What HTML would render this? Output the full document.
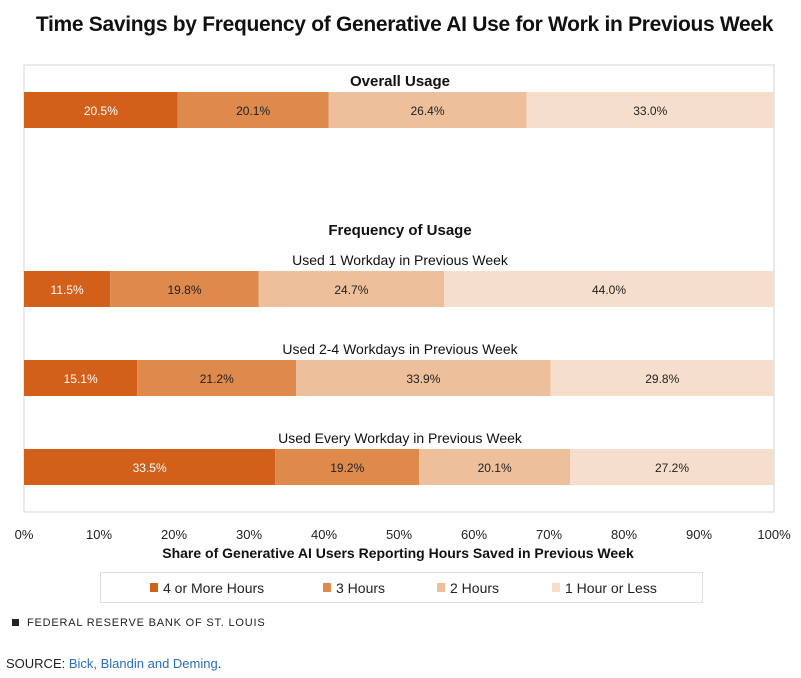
<!DOCTYPE html>
<html><head><meta charset="utf-8"><style>
body{margin:0;background:#fff;font-family:"Liberation Sans",sans-serif;}
</style></head><body>
<div style="position:relative;width:801px;height:678px;overflow:hidden">
<div style="position:absolute;left:0;top:13px;width:809px;text-align:center;font-weight:bold;font-size:21px;color:#111;letter-spacing:-0.3px">Time Savings by Frequency of Generative AI Use for Work in Previous Week</div>
<svg id="chart" width="801" height="620" style="position:absolute;left:0;top:0"></svg>
<div style="position:absolute;left:100px;top:572px;width:603px;height:31px;border:1px solid #ddd;box-sizing:border-box"></div>
<div style="position:absolute;left:12px;top:617px;font-size:11px;letter-spacing:0.8px;color:#222"><span style="display:inline-block;width:7px;height:7px;background:#222;margin-right:8px"></span>FEDERAL RESERVE BANK OF ST. LOUIS</div>
<div style="position:absolute;left:6px;top:656px;font-size:13px;color:#222">SOURCE: <span style="color:#2a6ebb">Bick, Blandin and Deming</span>.</div>
</div>
<script>
const categories=["Overall Usage","Used 1 Workday in Previous Week","Used 2-4 Workdays in Previous Week","Used Every Workday in Previous Week"];
const seriesNames=["4 or More Hours","3 Hours","2 Hours","1 Hour or Less"];
const s4plus=[20.5,11.5,15.1,33.5];
const s3=[20.1,19.8,21.2,19.2];
const s2=[26.4,24.7,33.9,20.1];
const s1=[33.0,44.0,29.8,27.2];
const ticks=[0,10,20,30,40,50,60,70,80,90,100];
const colors=["#D2601A","#DE8A4C","#EDBF9B","#F5DFCC"];
const textColors=["#fff","#222","#222","#222"];
const NS="http://www.w3.org/2000/svg";
const svg=document.getElementById('chart');
const X0=24,X1=774;
const x=v=>X0+(X1-X0)*v/100;
const rowY=[92,271,360,449],barH=36;
function mk(t,a){const e=document.createElementNS(NS,t);for(const k in a)e.setAttribute(k,a[k]);svg.appendChild(e);return e;}
const frame=mk('rect',{x:24,y:65,width:750,height:447,fill:'none',stroke:'#e3e3e3','stroke-width':1.5});


const series=[s4plus,s3,s2,s1];
categories.forEach((c,i)=>{
  const lab=mk('text',{x:400,y:rowY[i]-6,'text-anchor':'middle','font-size':i==0?15:14,'font-weight':i==0?'bold':'normal',fill:'#111'});
  lab.textContent=c;
  
  
  let acc=0;
  series.forEach((s,j)=>{
    const r=mk('rect',{x:x(acc),y:rowY[i],width:x(acc+s[i])-x(acc),height:barH,fill:colors[j]});
    
    
    const t=mk('text',{x:(x(acc)+x(acc+s[i]))/2,y:rowY[i]+23,'text-anchor':'middle','font-size':12,fill:textColors[j]});
    t.textContent=s[i].toFixed(1)+'%';
    
    
    acc+=s[i];
  });
});
const sub=mk('text',{x:400,y:235,'text-anchor':'middle','font-size':15,'font-weight':'bold',fill:'#111'});
sub.textContent='Frequency of Usage';


ticks.forEach(v=>{
  const t=mk('text',{x:x(v),y:539,'text-anchor':'middle','font-size':13,fill:'#222'});
  t.textContent=v+'%';
  
  
});
const xt=mk('text',{x:398,y:558,'text-anchor':'middle','font-size':14,'font-weight':'bold',fill:'#111'});
xt.textContent='Share of Generative AI Users Reporting Hours Saved in Previous Week';


const lx=[150,323,437,552];
seriesNames.forEach((n,j)=>{
  const r=mk('rect',{x:lx[j],y:583,width:8,height:9,fill:colors[j]});
  
  
  const t=mk('text',{x:lx[j]+13,y:593,'font-size':14,fill:'#222'});
  t.textContent=n;
  
  
});
</script>
</body></html>
